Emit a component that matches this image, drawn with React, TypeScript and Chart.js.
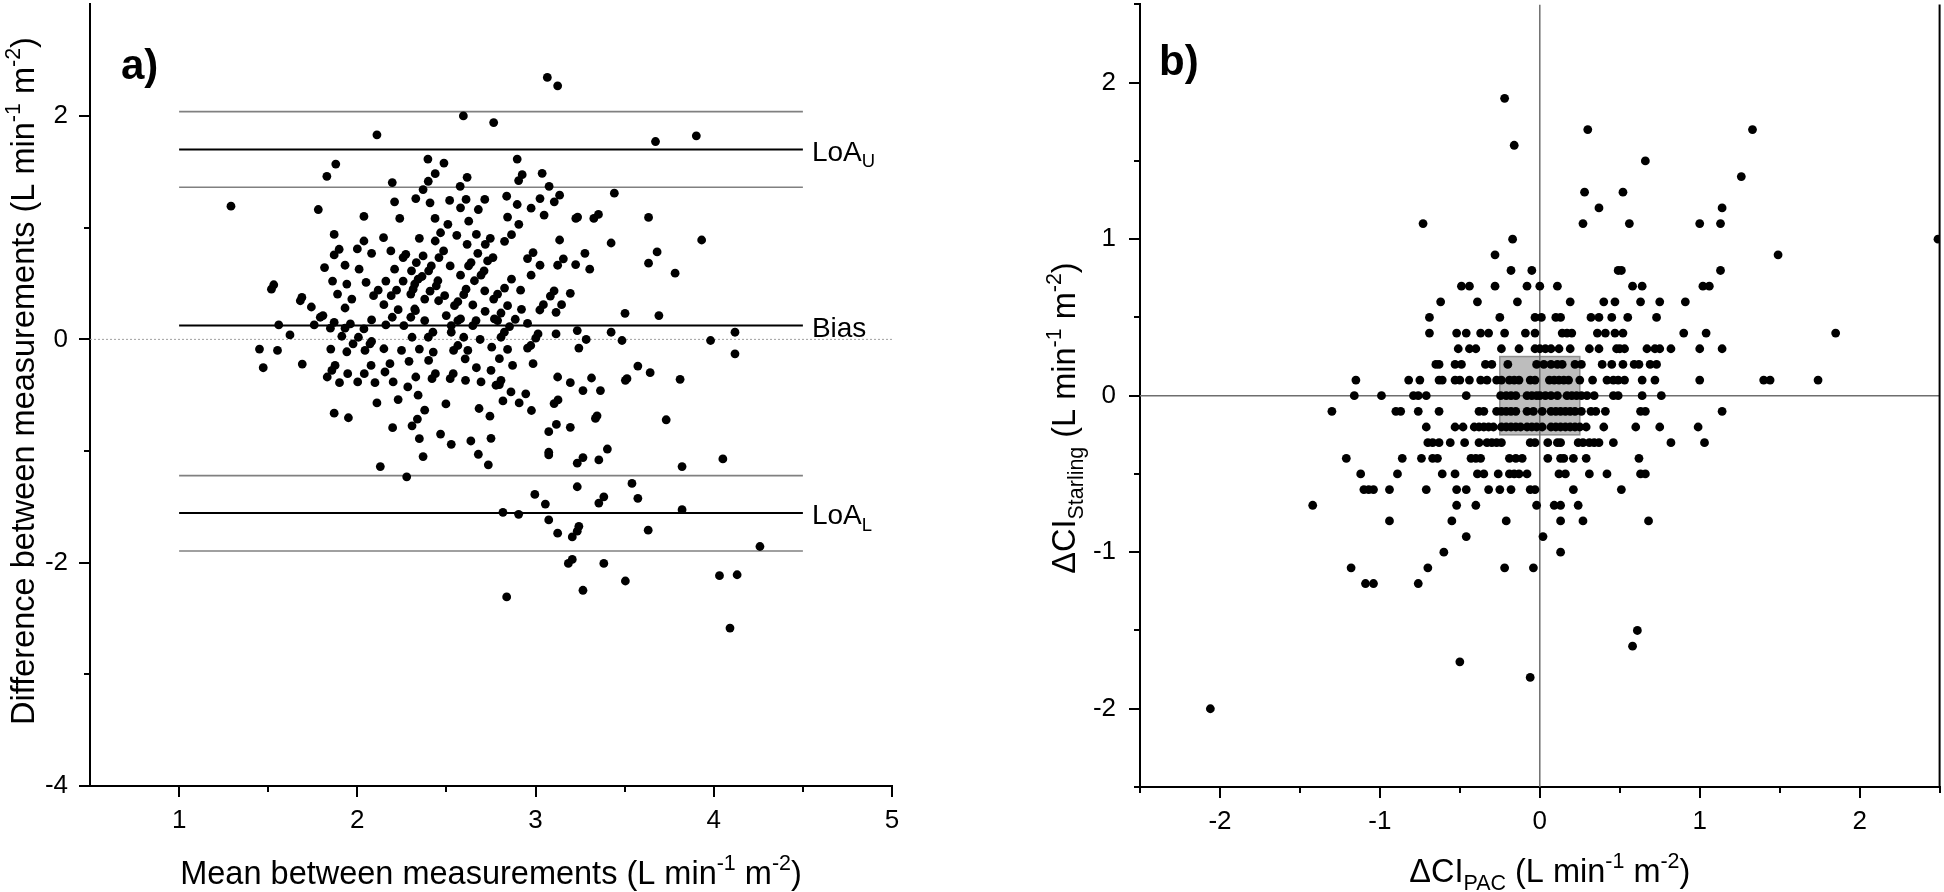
import React, { useEffect, useRef } from "react";
import { Chart, registerables } from "chart.js";
Chart.register(...registerables);

const FONT = '"Liberation Sans", Arial, Helvetica, sans-serif';

// ---------- Panel a (Bland-Altman) ----------
const aXTicks = [1, 2, 3, 4, 5];
const aXMinor = [1.5, 2.5, 3.5, 4.5];
const aYTicks = [-4, -2, 0, 2];
const aYMinor = [-3, -1, 1];
const aLineSpan = [1, 4.5];
const aLoaUpper = 1.7;
const aLoaUpperCI = [1.363, 2.04];
const aBias = 0.124;
const aLoaLower = -1.555;
const aLoaLowerCI = [-1.22, -1.895];
const aLabels = ["LoA", "Bias", "LoA"];
const aLabelSubs = ["U", "", "L"];

// [mean, difference]
const aPairs: [number, number][] = [
  [2.595, 2.001], [2.765, 1.942], [2.11, 1.832], [2.396, 1.615], [2.486, 1.579], [1.879, 1.57], [1.829, 1.46],
  [2.437, 1.484], [2.616, 1.451], [2.196, 1.404], [2.398, 1.416], [2.369, 1.342], [2.577, 1.371], [1.291, 1.193],
  [1.781, 1.163], [2.209, 1.232], [2.328, 1.261], [2.408, 1.223], [2.518, 1.244], [2.61, 1.253], [2.579, 1.178],
  [2.679, 1.163], [2.715, 1.253], [2.037, 1.101], [2.238, 1.083], [2.436, 1.083], [2.625, 1.059], [2.508, 1.03],
  [2.467, 0.955], [1.87, 0.94], [2.147, 0.911], [2.348, 0.905], [2.558, 0.932], [2.668, 0.94], [2.746, 0.905],
  [2.037, 0.881], [2.437, 0.881], [2.616, 0.851], [2.718, 0.851], [1.898, 0.807], [2.0, 0.81], [1.87, 0.756],
  [2.08, 0.771], [2.188, 0.792], [2.272, 0.762], [2.257, 0.733], [2.369, 0.747], [2.484, 0.792], [2.458, 0.733],
  [2.676, 0.771], [2.761, 0.733], [1.816, 0.643], [1.931, 0.664], [2.01, 0.629], [2.209, 0.629], [2.331, 0.688],
  [2.304, 0.614], [2.415, 0.658], [2.4, 0.614], [2.521, 0.658], [2.638, 0.688], [2.624, 0.658], [2.731, 0.703],
  [2.711, 0.614], [1.861, 0.522], [1.941, 0.495], [2.049, 0.51], [2.16, 0.522], [2.257, 0.522], [2.341, 0.539],
  [2.363, 0.563], [2.452, 0.525], [2.579, 0.575], [2.694, 0.575], [2.657, 0.525], [1.531, 0.489], [1.518, 0.45],
  [1.889, 0.406], [1.969, 0.361], [2.091, 0.391], [2.117, 0.441], [2.19, 0.391], [2.22, 0.441], [2.313, 0.45],
  [2.322, 0.495], [2.3, 0.406], [2.408, 0.432], [2.443, 0.48], [2.49, 0.391], [2.456, 0.346], [2.61, 0.45],
  [2.597, 0.4], [2.715, 0.435], [2.765, 0.361], [1.689, 0.376], [1.68, 0.346], [1.742, 0.29], [1.931, 0.281],
  [2.149, 0.311], [2.229, 0.266], [2.322, 0.272], [2.378, 0.361], [2.499, 0.213], [2.545, 0.302], [2.564, 0.337],
  [2.648, 0.308], [2.717, 0.251], [1.792, 0.198], [1.807, 0.213], [1.87, 0.153], [2.196, 0.198], [2.3, 0.198],
  [2.326, 0.257], [1.559, 0.129], [1.758, 0.129], [1.849, 0.1], [1.931, 0.1], [1.961, 0.138], [2.037, 0.094],
  [2.08, 0.174], [2.16, 0.129], [2.261, 0.123], [2.378, 0.168], [2.527, 0.123], [2.564, 0.168], [2.579, 0.183],
  [2.648, 0.123], [2.666, 0.168], [2.769, 0.183], [1.622, 0.04], [1.913, 0.028], [2.006, 0.019], [2.08, -0.019],
  [2.307, 0.019], [2.398, 0.019], [2.424, 0.064], [2.527, 0.064], [2.597, 0.019], [2.689, -0.001],
  [1.451, -0.087], [1.552, -0.099], [1.472, -0.254], [1.691, -0.221], [1.851, -0.087], [1.941, -0.111],
  [1.976, -0.04], [2.043, -0.099], [2.071, -0.04], [2.149, -0.084], [2.248, -0.099], [2.348, -0.087],
  [2.426, -0.114], [2.4, -0.189], [2.54, -0.099], [2.564, -0.055], [2.62, -0.099], [2.605, -0.174],
  [2.754, -0.07], [1.875, -0.233], [1.857, -0.278], [1.831, -0.337], [1.9, -0.388], [1.946, -0.307],
  [2.002, -0.381], [2.039, -0.307], [2.077, -0.233], [2.099, -0.388], [2.155, -0.292], [2.183, -0.218],
  [2.201, -0.381], [2.29, -0.197], [2.283, -0.426], [2.328, -0.337], [2.341, -0.5], [2.419, -0.352],
  [2.438, -0.307], [2.521, -0.352], [2.538, -0.307], [2.607, -0.367], [2.668, -0.254], [2.694, -0.381],
  [2.75, -0.278], [2.778, -0.411], [2.11, -0.569], [2.229, -0.539], [2.497, -0.578], [1.87, -0.661],
  [1.95, -0.702], [2.378, -0.634], [2.337, -0.714], [2.307, -0.774], [2.198, -0.791], [2.683, -0.619],
  [2.744, -0.688], [2.348, -0.889], [2.467, -0.848], [2.527, -0.94], [2.637, -0.91], [2.75, -0.886],
  [2.369, -1.05], [2.679, -1.029], [2.735, -1.124], [2.129, -1.139], [2.277, -1.231],
  [3.066, 2.346], [3.124, 2.271], [3.673, 1.772], [3.902, 1.823], [2.897, 1.615], [2.925, 1.475], [2.905, 1.422],
  [3.037, 1.487], [3.076, 1.371], [2.838, 1.282], [2.897, 1.208], [3.025, 1.261], [3.135, 1.291], [3.105, 1.232],
  [2.975, 1.175], [3.048, 1.113], [3.442, 1.309], [2.843, 1.095], [2.906, 1.03], [3.226, 1.083], [3.236, 1.095],
  [3.327, 1.083], [3.353, 1.119], [3.634, 1.092], [2.865, 0.938], [2.826, 0.878], [3.135, 0.89], [3.424, 0.863],
  [3.932, 0.89], [2.986, 0.777], [2.955, 0.724], [3.277, 0.771], [3.156, 0.721], [3.124, 0.664], [3.025, 0.664],
  [3.225, 0.67], [3.304, 0.629], [3.682, 0.783], [3.634, 0.682], [3.783, 0.593], [2.975, 0.575], [2.865, 0.539],
  [2.826, 0.459], [2.916, 0.441], [2.787, 0.406], [3.104, 0.435], [3.083, 0.388], [3.195, 0.412], [2.843, 0.302],
  [2.921, 0.269], [3.044, 0.311], [3.024, 0.263], [3.146, 0.311], [3.115, 0.242], [2.806, 0.236], [2.787, 0.168],
  [2.886, 0.18], [2.955, 0.144], [3.502, 0.233], [3.692, 0.213], [2.854, 0.115], [2.825, 0.064], [2.806, 0.019],
  [3.014, 0.049], [3.001, 0.011], [3.115, 0.049], [3.234, 0.079], [3.424, 0.064], [4.119, 0.064], [3.284, -0.001],
  [3.485, -0.01], [3.982, -0.01],
  [3.243, -0.078], [2.973, -0.055], [2.955, -0.078], [2.843, -0.09], [2.797, -0.173], [2.871, -0.233],
  [2.986, -0.218], [4.119, -0.129], [3.574, -0.239], [3.643, -0.298], [3.504, -0.367], [3.513, -0.352],
  [3.811, -0.358], [2.806, -0.367], [2.797, -0.405], [3.124, -0.337], [3.195, -0.388], [3.314, -0.346],
  [3.266, -0.459], [3.364, -0.459], [2.862, -0.471], [2.945, -0.488], [2.817, -0.551], [2.908, -0.569],
  [2.977, -0.637], [3.104, -0.575], [3.126, -0.542], [3.336, -0.708], [3.345, -0.685], [3.733, -0.72],
  [3.074, -0.827], [3.117, -0.762], [3.195, -0.788], [3.074, -1.035], [3.074, -1.011], [3.234, -1.109],
  [3.266, -1.059], [3.355, -1.08], [3.403, -0.982], [3.822, -1.139], [4.051, -1.071], [3.234, -1.32],
  [3.541, -1.29], [2.996, -1.389], [3.055, -1.475], [3.355, -1.466], [3.383, -1.41], [3.574, -1.424],
  [3.822, -1.525], [2.817, -1.549], [2.905, -1.567], [3.074, -1.617], [3.124, -1.736], [3.206, -1.769],
  [3.234, -1.718], [3.243, -1.674], [3.632, -1.709], [4.259, -1.855], [3.184, -2.007], [3.206, -1.971],
  [3.383, -2.007], [3.504, -2.164], [4.032, -2.116], [4.131, -2.108], [3.266, -2.247], [2.838, -2.307],
  [4.091, -2.586],
];

// ---------- Panel b (ΔCI vs ΔCI) ----------
const bTicks = [-2, -1, 0, 1, 2];
const bMinor = [-2.5, -1.5, -0.5, 0.5, 1.5, 2.5];
const bBox = [-0.25, 0.25];
const bLevels = [1.9, 1.7, 1.6, 1.5, 1.4, 1.3, 1.2, 1.1, 1.0, 0.9, 0.8, 0.7, 0.6, 0.5, 0.4, 0.3, 0.2, 0.1, 0,
  -0.1, -0.2, -0.3, -0.4, -0.5, -0.6, -0.7, -0.8, -0.9, -1.0, -1.1, -1.2, -1.5, -1.6, -1.7, -1.8, -2.0];
const bPacByLevel: number[][] = [
  [-0.22],
  [0.3, 1.33],
  [-0.16],
  [0.66],
  [1.26],
  [0.28, 0.52],
  [0.37, 1.14],
  [-0.73, 0.27, 0.56, 1.0, 1.13],
  [-0.17, 2.49],
  [-0.28, 1.49],
  [-0.18, -0.05, 0.49, 0.51, 1.13],
  [-0.49, -0.44, -0.28, -0.08, 0.0, 0.11, 0.58, 0.64, 1.02, 1.06],
  [-0.62, -0.39, -0.14, 0.19, 0.4, 0.47, 0.63, 0.75, 0.91],
  [-0.69, -0.25, -0.03, 0.01, 0.1, 0.13, 0.32, 0.37, 0.45, 0.55, 0.73],
  [-0.69, -0.52, -0.46, -0.37, -0.32, -0.22, -0.09, -0.03, 0.14, 0.17, 0.2, 0.36, 0.41, 0.47, 0.52, 0.9, 1.04, 1.85],
  [-0.51, -0.44, -0.4, -0.24, -0.13, -0.03, 0.0, 0.035, 0.07, 0.12, 0.19, 0.31, 0.37, 0.48, 0.5, 0.53, 0.67, 0.72,
    0.75, 0.82, 1.0, 1.14],
  [-0.65, -0.63, -0.53, -0.49, -0.34, -0.3, -0.2, -0.02, 0.025, 0.07, 0.11, 0.14, 0.22, 0.26, 0.39, 0.45, 0.52,
    0.59, 0.62, 0.69, 0.73],
  [-1.15, -0.82, -0.75, -0.63, -0.61, -0.53, -0.5, -0.44, -0.37, -0.33, -0.27, -0.24, -0.19, -0.16, -0.13, -0.06,
    -0.03, 0.06, 0.09, 0.12, 0.15, 0.18, 0.25, 0.33, 0.42, 0.46, 0.49, 0.53, 0.64, 0.72, 1.0, 1.4, 1.44, 1.74],
  [-1.16, -0.99, -0.79, -0.76, -0.71, -0.46, -0.245, -0.21, -0.18, -0.15, -0.08, -0.05, -0.02, 0.0, 0.035, 0.07,
    0.11, 0.17, 0.2, 0.23, 0.26, 0.295, 0.34, 0.46, 0.49, 0.64, 0.76],
  [-1.3, -0.9, -0.87, -0.76, -0.63, -0.38, -0.35, -0.27, -0.24, -0.21, -0.18, -0.15, -0.08, -0.04, 0.015, 0.07,
    0.1, 0.13, 0.16, 0.19, 0.22, 0.26, 0.32, 0.35, 0.41, 0.63, 0.66, 1.14],
  [-0.71, -0.53, -0.48, -0.41, -0.38, -0.35, -0.32, -0.29, -0.24, -0.21, -0.18, -0.15, -0.12, -0.08, -0.05, -0.02,
    0.015, 0.07, 0.1, 0.13, 0.16, 0.19, 0.22, 0.25, 0.29, 0.4, 0.6, 0.75, 0.99],
  [-0.7, -0.67, -0.63, -0.56, -0.47, -0.38, -0.33, -0.3, -0.27, -0.24, -0.06, -0.03, 0.05, 0.11, 0.13, 0.24, 0.27,
    0.31, 0.34, 0.37, 0.46, 0.82, 1.03],
  [-1.21, -0.86, -0.74, -0.67, -0.64, -0.43, -0.4, -0.37, -0.19, -0.15, -0.11, 0.05, 0.13, 0.15, 0.21, 0.29, 0.62],
  [-1.12, -0.89, -0.61, -0.53, -0.39, -0.35, -0.26, -0.19, -0.16, -0.13, -0.08, 0.12, 0.16, 0.31, 0.42, 0.63, 0.66],
  [-1.1, -1.07, -1.04, -0.94, -0.71, -0.52, -0.46, -0.32, -0.25, -0.18, -0.06, -0.03, 0.21, 0.51],
  [-1.42, -0.52, -0.4, -0.02, 0.09, 0.13, 0.24],
  [-0.94, -0.55, -0.21, 0.13, 0.27, 0.68],
  [-0.46, 0.02],
  [-0.6, 0.13],
  [-1.18, -0.7, -0.22, -0.04],
  [-1.09, -1.04, -0.76],
  [0.61],
  [0.58],
  [-0.5],
  [-0.06],
  [-2.06],
];

type Seg = { t: string; k?: "sup" | "sub" };

function drawRich(ctx: CanvasRenderingContext2D, segs: Seg[], cx: number, cy: number, size: number,
  rotate: boolean, align: "center" | "left" = "center", bold = false) {
  ctx.save();
  ctx.translate(cx, cy);
  if (rotate) ctx.rotate(-Math.PI / 2);
  const small = size * 0.66;
  const w = (s: Seg) => {
    ctx.font = `${bold ? "bold " : ""}${s.k ? small : size}px ${FONT}`;
    return ctx.measureText(s.t).width;
  };
  const widths = segs.map(w);
  const total = widths.reduce((a, b) => a + b, 0);
  let x = align === "center" ? -total / 2 : 0;
  const base = size * 0.36;
  ctx.fillStyle = "#000";
  ctx.textBaseline = "alphabetic";
  ctx.textAlign = "left";
  segs.forEach((s, i) => {
    ctx.font = `${bold ? "bold " : ""}${s.k ? small : size}px ${FONT}`;
    const dy = s.k === "sup" ? -size * 0.42 : s.k === "sub" ? size * 0.24 : 0;
    ctx.fillText(s.t, x, base + dy);
    x += widths[i];
  });
  ctx.restore();
}

const unitSegs = (lead: Seg[]): Seg[] => [
  ...lead,
  { t: " (L min" }, { t: "-1", k: "sup" }, { t: " m" }, { t: "-2", k: "sup" }, { t: ")" },
];

function minorTicks(chart: any, xs: number[], ys: number[], len: number) {
  const { ctx, chartArea, scales } = chart;
  ctx.save();
  ctx.strokeStyle = "#000";
  ctx.lineWidth = 2;
  ctx.beginPath();
  xs.forEach((v) => {
    const px = Math.round(scales.x.getPixelForValue(v));
    ctx.moveTo(px, chartArea.bottom);
    ctx.lineTo(px, chartArea.bottom + len);
  });
  ys.forEach((v) => {
    const py = Math.round(scales.y.getPixelForValue(v));
    ctx.moveTo(chartArea.left, py);
    ctx.lineTo(chartArea.left - len, py);
  });
  ctx.stroke();
  ctx.restore();
}

function axisOpts(min: number, max: number, ticks: number[], horizontal: boolean, size: number, pad: number) {
  return {
    type: "linear",
    min,
    max,
    afterBuildTicks: (s: any) => {
      s.ticks = ticks.map((v) => ({ value: v }));
    },
    afterFit: (s: any) => {
      if (horizontal) {
        s.height = size;
        s.paddingLeft = 0;
        s.paddingRight = 0;
      } else {
        s.width = size;
        s.paddingTop = 0;
        s.paddingBottom = 0;
      }
    },
    grid: { drawOnChartArea: false, drawTicks: true, tickLength: 11, color: "#000", lineWidth: 2 },
    border: { display: true, color: "#000", width: 2 },
    ticks: {
      font: { family: FONT, size: 26 },
      color: "#000",
      padding: pad,
      maxRotation: 0,
      autoSkip: false,
      callback: (v: number) => String(v),
    },
  };
}

function lineDs(x0: number, x1: number, y0: number, y1: number, color: string, width: number, dash: number[] = []) {
  return {
    data: [{ x: x0, y: y0 }, { x: x1, y: y1 }],
    showLine: true,
    borderColor: color,
    borderWidth: width,
    borderDash: dash,
    pointRadius: 0,
    fill: false,
  };
}

const TITLE = 32.5;

function configA(): any {
  const pts = aPairs.map(([x, y]) => ({ x, y }));
  return {
    type: "scatter",
    data: {
      datasets: [
        { data: pts, pointRadius: 4.4, pointBackgroundColor: "#000", pointBorderWidth: 0, showLine: false },
        lineDs(aLineSpan[0], aLineSpan[1], aLoaUpper, aLoaUpper, "#000", 2),
        lineDs(aLineSpan[0], aLineSpan[1], aBias, aBias, "#000", 2),
        lineDs(aLineSpan[0], aLineSpan[1], aLoaLower, aLoaLower, "#000", 2),
        ...aLoaUpperCI.map((v) => lineDs(aLineSpan[0], aLineSpan[1], v, v, "#808080", 1.6)),
        ...aLoaLowerCI.map((v) => lineDs(aLineSpan[0], aLineSpan[1], v, v, "#808080", 1.6)),
        lineDs(0.5, 5, 0, 0, "#a0a0a0", 1, [2, 2]),
      ],
    },
    options: {
      responsive: false,
      animation: false,
      devicePixelRatio: 1,
      events: [],
      layout: { padding: { left: 0, right: 108, top: 2, bottom: 0 } },
      plugins: { legend: { display: false }, tooltip: { enabled: false } },
      scales: {
        x: axisOpts(0.5, 5, aXTicks, true, 106, 8),
        y: axisOpts(-4, 3, aYTicks, false, 90, 11),
      },
    },
    plugins: [
      {
        id: "decorA",
        afterDraw(chart: any) {
          const { ctx, chartArea, scales } = chart;
          minorTicks(chart, aXMinor, aYMinor, 6);
          const lx = scales.x.getPixelForValue(aLineSpan[1]) + 9;
          [aLoaUpper, aBias, aLoaLower].forEach((v, i) => {
            const segs: Seg[] = [{ t: aLabels[i] }];
            if (aLabelSubs[i]) segs.push({ t: aLabelSubs[i], k: "sub" });
            drawRich(ctx, segs, lx, scales.y.getPixelForValue(v) + 1, 28, false, "left");
          });
          const cx = (chartArea.left + chartArea.right) / 2;
          drawRich(ctx, unitSegs([{ t: "Mean between measurements" }]), cx, 872, TITLE, false);
          drawRich(ctx, unitSegs([{ t: "Difference between measurements" }]), 22, 381, TITLE, true);
          drawRich(ctx, [{ t: "a)" }], 121, 64, 42, false, "left", true);
        },
      },
    ],
  };
}

function configB(): any {
  const pts: { x: number; y: number }[] = [];
  bLevels.forEach((y, i) => bPacByLevel[i].forEach((x) => pts.push({ x, y })));
  return {
    type: "scatter",
    data: {
      datasets: [
        { data: pts, pointRadius: 4.4, pointBackgroundColor: "#000", pointBorderWidth: 0, showLine: false, clip: 0 },
        lineDs(0, 0, -2.5, 2.5, "#6e6e6e", 1.5),
        lineDs(-2.5, 2.5, 0, 0, "#6e6e6e", 1.5),
      ],
    },
    options: {
      responsive: false,
      animation: false,
      devicePixelRatio: 1,
      events: [],
      layout: { padding: { left: 0, right: 2.5, top: 2, bottom: 0 } },
      plugins: { legend: { display: false }, tooltip: { enabled: false } },
      scales: {
        x: axisOpts(-2.5, 2.5, bTicks, true, 105, 8),
        y: axisOpts(-2.5, 2.5, bTicks, false, 140, 13),
      },
    },
    plugins: [
      {
        id: "boxB",
        beforeDatasetsDraw(chart: any) {
          const { ctx, scales } = chart;
          const x0 = scales.x.getPixelForValue(bBox[0]);
          const x1 = scales.x.getPixelForValue(bBox[1]);
          const y0 = scales.y.getPixelForValue(bBox[1]);
          const y1 = scales.y.getPixelForValue(bBox[0]);
          ctx.save();
          ctx.fillStyle = "#bdbdbd";
          ctx.fillRect(x0, y0, x1 - x0, y1 - y0);
          ctx.strokeStyle = "#8f8f8f";
          ctx.lineWidth = 1.5;
          ctx.strokeRect(x0, y0, x1 - x0, y1 - y0);
          ctx.restore();
        },
      },
      {
        id: "decorB",
        afterDraw(chart: any) {
          const { ctx, chartArea } = chart;
          minorTicks(chart, bMinor, bMinor, 6);
          ctx.save();
          ctx.strokeStyle = "#000";
          ctx.lineWidth = 2;
          ctx.beginPath();
          ctx.moveTo(chartArea.right, chartArea.top);
          ctx.lineTo(chartArea.right, chartArea.bottom);
          ctx.stroke();
          ctx.restore();
          const cx = (chartArea.left + chartArea.right) / 2 + 10;
          drawRich(ctx, unitSegs([{ t: "ΔCI" }, { t: "PAC", k: "sub" }]), cx, 870, TITLE, false);
          drawRich(ctx, unitSegs([{ t: "ΔCI" }, { t: "Starling", k: "sub" }]), 63, 418, TITLE, true);
          drawRich(ctx, [{ t: "b)" }], 159, 60, 42, false, "left", true);
        },
      },
    ],
  };
}

export default function App() {
  const refA = useRef<HTMLCanvasElement>(null);
  const refB = useRef<HTMLCanvasElement>(null);
  useEffect(() => {
    const ca = new Chart(refA.current as HTMLCanvasElement, configA());
    const cb = new Chart(refB.current as HTMLCanvasElement, configB());
    return () => {
      ca.destroy();
      cb.destroy();
    };
  }, []);
  return (
    <div style={{ position: "absolute", left: 0, top: 0, width: 1944, height: 892, overflow: "hidden", background: "#fff" }}>
      <canvas ref={refA} width={1000} height={892} style={{ position: "absolute", left: 0, top: 0, width: 1000, height: 892 }} />
      <canvas ref={refB} width={944} height={892} style={{ position: "absolute", left: 1000, top: 0, width: 944, height: 892 }} />
    </div>
  );
}
